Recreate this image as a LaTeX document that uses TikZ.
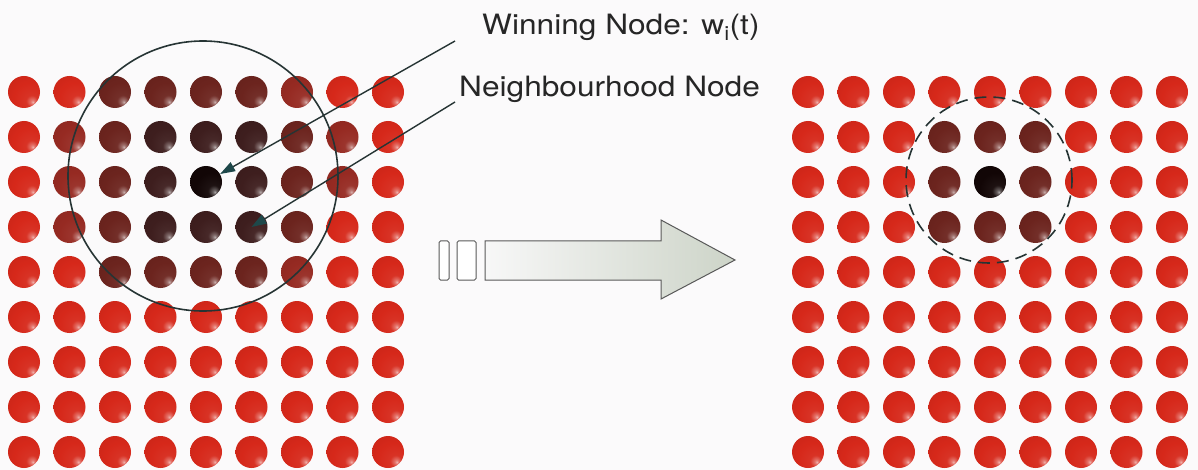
\documentclass[tikz,border=0pt]{standalone}
\usepackage{fontspec}
\newfontfamily\lblfont[FakeStretch=1.13]{TeX Gyre Heros}
\usetikzlibrary{arrows.meta}

% sphere colours by activation level: red (idle) ... black (winner)
\definecolor{lv0}{RGB}{214,40,26}
\definecolor{lv1}{RGB}{150,42,34}
\definecolor{lv2}{RGB}{108,36,30}
\definecolor{lv3}{RGB}{62,30,30}
\definecolor{lv4}{RGB}{18,6,6}
\definecolor{ink}{RGB}{38,52,52}
\definecolor{tiphead}{RGB}{30,72,74}
\definecolor{bgc}{RGB}{251,250,251}
\definecolor{arrowend}{RGB}{205,212,200}
\colorlet{ballc}{lv0}

% glossy sphere, small highlight towards the lower right
\pgfdeclareradialshading[ballc]{sphere}{\pgfpoint{14bp}{-16bp}}{%
  color(0bp)=(ballc!35!white); color(3bp)=(ballc!65!white);
  color(9bp)=(ballc!95!white); color(25bp)=(ballc);
  color(55bp)=(ballc!90!black); color(72bp)=(ballc!82!black)}

\tikzset{
  ball/.style={circle, inner sep=0pt, minimum size=32pt,
    /utils/exec={\colorlet{ballc}{#1}}, shading=sphere},
  lbl/.style={font=\lblfont\fontsize{28}{30}\selectfont, text=black!85, inner sep=0pt},
  pointer/.style={draw=ink, line width=1.4pt,
    -{Triangle[length=15pt,width=10pt,color=tiphead]}},
  zone/.style={draw=ink, line width=1.6pt, circle, inner sep=0pt},
  outline/.style={draw=black!65, line width=1pt}
}

\begin{document}
\begin{tikzpicture}[x=1pt,y=-1pt]
\useasboundingbox (0,0) rectangle (1198,470);
\fill[bgc] (0,0) rectangle (1198,470);

% left lattice: winner with a wide neighbourhood
\foreach \r/\row in {0/{0,0,2,2,2,2,1,0,0},
                     1/{0,1,2,3,3,3,2,1,0},
                     2/{0,1,2,3,4,3,2,1,0},
                     3/{0,1,2,3,3,3,2,0,0},
                     4/{0,0,2,2,2,2,1,0,0},
                     5/{0,0,0,0,0,0,0,0,0},
                     6/{0,0,0,0,0,0,0,0,0},
                     7/{0,0,0,0,0,0,0,0,0},
                     8/{0,0,0,0,0,0,0,0,0}}{
  \foreach \lv [count=\c from 0] in \row {
    \node[ball=lv\lv] (L-\r-\c) at ({24+45.5*\c},{92+45*\r}) {};
  }
}

% right lattice: the neighbourhood has shrunk
\foreach \r/\row in {0/{0,0,0,0,0,0,0,0,0},
                     1/{0,0,0,2,2,2,0,0,0},
                     2/{0,0,0,2,4,2,0,0,0},
                     3/{0,0,0,2,2,2,0,0,0},
                     4/{0,0,0,0,0,0,0,0,0},
                     5/{0,0,0,0,0,0,0,0,0},
                     6/{0,0,0,0,0,0,0,0,0},
                     7/{0,0,0,0,0,0,0,0,0},
                     8/{0,0,0,0,0,0,0,0,0}}{
  \foreach \lv [count=\c from 0] in \row {
    \node[ball=lv\lv] (R-\r-\c) at ({808+45.5*\c},{92+45*\r}) {};
  }
}

% neighbourhood radii
\node[zone, minimum size=270pt] (zoneL) at (203,176) {};
\node[zone, dash pattern=on 12pt off 7pt, minimum size=166pt] (zoneR) at (989,180) {};

% labels and their pointers
\node[lbl, anchor=base west] (winLbl) at (482,35) {Winning Node: w\textsubscript{i}(t)};
\node[lbl, anchor=base west] (nbrLbl) at (459,97) {Neighbourhood Node};
\coordinate (winFrom) at (455,41);
\coordinate (nbrFrom) at (455,102);
\draw[pointer] (winFrom) -- (L-2-4);
\draw[pointer] (nbrFrom) -- (L-3-5.center);

% block arrow between the two lattices
\draw[outline, fill=white, rounded corners=1.5pt] (439,241) rectangle (449,280);
\draw[outline, fill=white, rounded corners=1.5pt] (457,241) rectangle (476,280);
\shade[outline, left color=white!97!black, right color=arrowend]
  (485,241) -- (661,241) -- (661,220) -- (735,260) -- (661,299)
  -- (661,280) -- (485,280) -- cycle;
\end{tikzpicture}
\end{document}
